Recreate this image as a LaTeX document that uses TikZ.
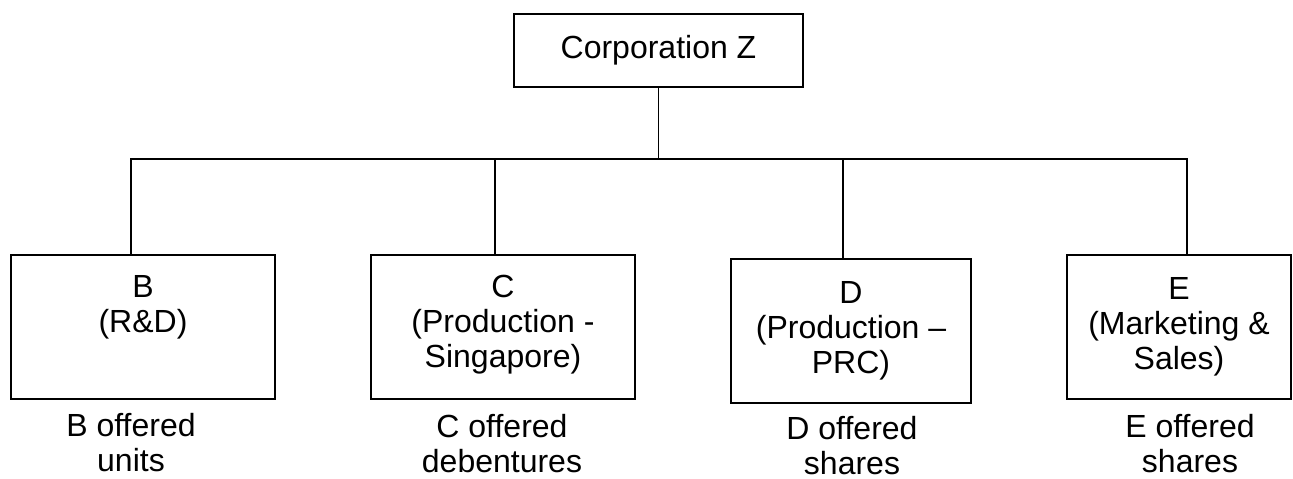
\documentclass[tikz,border=0pt]{standalone}
\usepackage{fontspec}
\setmainfont{Liberation Sans}
\usetikzlibrary{positioning}

\tikzset{
  unit/.style={draw, minimum height=144pt, inner sep=0pt},
  btext/.style={align=center, inner sep=0pt, font=\fontsize{32}{35}\selectfont},
}

\begin{document}
\begin{tikzpicture}[x=1pt, y=-1pt, line width=1.8pt]
  \useasboundingbox (0,0) rectangle (1293,479);

  % parent
  \node[draw, btext, minimum width=289pt, minimum height=73pt] (Z) at (658.5,50.5) {Corporation Z};

  % subsidiaries
  \node[unit, minimum width=264pt] (B) at (143,327) {};
  \node[unit, minimum width=264pt] (C) at (503,327) {};
  \node[unit, minimum width=240pt] (D) at (851,331) {};
  \node[unit, minimum width=224pt] (E) at (1179,327) {};

  \node[btext, below=20pt of B.north] (Bt) {B\\(R\&D)};
  \node[btext, below=20pt of C.north] (Ct) {C\\(Production -\\Singapore)};
  \node[btext, below=22pt of D.north] (Dt) {D\\(Production --\\PRC)};
  \node[btext, below=22pt of E.north] (Et) {E\\(Marketing \&\\Sales)};

  % tree lines
  \coordinate (jB) at (131,159);
  \coordinate (jC) at (495,159);
  \coordinate (jD) at (843,159);
  \coordinate (jE) at (1187,159);
  \draw (Z.south) -- (Z.south |- jB);
  \draw (jB |- B.north) -- (jB) -- (jE) -- (jE |- E.north);
  \draw (jC) -- (jC |- C.north);
  \draw (jD) -- (jD |- D.north);

  % what each one offered
  \node[btext, anchor=north] (Bl) at (131,412) {B offered\\units};
  \node[btext, anchor=north] (Cl) at (502,413) {C offered\\debentures};
  \node[btext, anchor=north] (Dl) at (852,415) {D offered\\shares};
  \node[btext, anchor=north] (El) at (1190,413) {E offered\\shares};
\end{tikzpicture}
\end{document}
